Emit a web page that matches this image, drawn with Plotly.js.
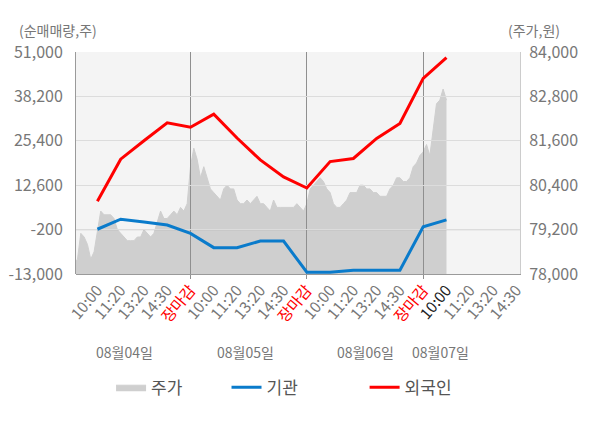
<!DOCTYPE html>
<html>
<head>
<meta charset="utf-8">
<script src="https://cdn.plot.ly/plotly-3.0.1.min.js"></script>
<style>
html,body{margin:0;padding:0;background:#fff;}
#chart{width:600px;height:428px;}
</style>
</head>
<body>
<div id="chart"></div>
<script>
// ---- data ----
const dayLabels = ['08월04일', '08월05일', '08월06일', '08월07일'];
const slotLabels = ['10:00', '11:20', '13:20', '14:30', '장마감'];

// 주가 (원), sampled 7 times per slot, day by day
const priceDay1 = [78300, 78400, 79100, 79000, 78800, 78400, 78600, 79200, 79700, 79600, 79600, 79600, 79500, 79200, 79100, 79000, 78900, 78900, 78900, 79000, 79000, 79200, 79100, 79000, 79100, 79400, 79700, 79500, 79500, 79600, 79700, 79600, 79800, 79700, 79900];
const priceDay2 = [80900, 81400, 81100, 80600, 80900, 80600, 80300, 80200, 80100, 80000, 80300, 80400, 80300, 80300, 80000, 79900, 79900, 80000, 79900, 80000, 80100, 79900, 79900, 79800, 79700, 80000, 79800, 79800, 79800, 79800, 79800, 79800, 79900, 79800, 79700];
const priceDay3 = [79900, 80300, 80400, 80500, 80600, 80500, 80300, 80200, 79900, 79800, 79800, 79900, 80000, 80200, 80200, 80200, 80400, 80400, 80300, 80300, 80200, 80200, 80100, 80100, 80100, 80300, 80400, 80600, 80600, 80500, 80500, 80600, 80900, 81000, 81200];
const priceDay4 = [81300, 81500, 81200, 81900, 82600, 82700, 83000, 82700];

// 순매매량 (주) at each time slot
const foreignNet = [8000, 20100, 25400, 30600, 29300, 33100, 26200, 19900, 15000, 11800, 19400, 20300, 26100, 30400, 43400, 49400];
const instNet = [-100, 2800, 2000, 1100, -1300, -5400, -5400, -3500, -3500, -12500, -12500, -11900, -11900, -11900, 600, 2600];

const netTicks = [-13000, -200, 12600, 25400, 38200, 51000];
const priceTicks = [78000, 79200, 80400, 81600, 82800, 84000];
const baseLine = -200;

// ---- build ----
const SAMPLES_PER_SLOT = 7;
const SLOTS_PER_DAY = slotLabels.length;
const price = [].concat(priceDay1, priceDay2, priceDay3, priceDay4);
const priceX = price.map((_, i) => i / SAMPLES_PER_SLOT);
const slotX = foreignNet.map((_, i) => i + 1);

const tickvals = [], ticktext = [];
const nSlots = SLOTS_PER_DAY * dayLabels.length - 1;
const currentSlot = foreignNet.length;
for (let s = 1; s <= nSlots; s++) {
  const lab = slotLabels[(s - 1) % SLOTS_PER_DAY];
  tickvals.push(s);
  if (lab === '장마감') ticktext.push('<span style="color:#ff0000">' + lab + '</span>');
  else if (s === currentSlot) ticktext.push('<span style="color:#222222">' + lab + '</span>');
  else ticktext.push(lab);
}
const closeVals = [];
for (let d = 1; d < dayLabels.length; d++) closeVals.push(d * SLOTS_PER_DAY);

const fmt = v => v.toLocaleString('en-US');
const FONT = 'Noto Sans CJK KR, Noto Sans, sans-serif';
const xRange = [0.08, 19.16];

const traces = [
  {
    x: priceX, y: price, name: '주가', type: 'scatter', mode: 'lines',
    xaxis: 'x', yaxis: 'y', fill: 'tozeroy', fillcolor: '#cfcfcf',
    line: {color: '#cfcfcf', width: 1}, legend: 'legend'
  },
  {
    x: slotX, y: instNet, name: '기관', type: 'scatter', mode: 'lines',
    xaxis: 'x2', yaxis: 'y2', line: {color: '#0a7bcb', width: 3}, legend: 'legend2'
  },
  {
    x: slotX, y: foreignNet, name: '외국인', type: 'scatter', mode: 'lines',
    xaxis: 'x2', yaxis: 'y2', line: {color: '#ff0000', width: 3}, legend: 'legend3'
  }
];

const legendBase = {orientation: 'h', yanchor: 'middle', xanchor: 'left', y: -0.512,
  bgcolor: 'rgba(0,0,0,0)', font: {family: FONT, size: 17, color: '#555555'}};

const annFont = {family: FONT, size: 14, color: '#777777'};
const dayPos = [0.110, 0.381, 0.651, 0.820];
const annotations = dayLabels.map((t, i) => ({
  text: t, xref: 'paper', yref: 'paper', x: dayPos[i], y: -0.351,
  xanchor: 'center', yanchor: 'middle', showarrow: false, font: annFont
}));
annotations.push({text: '(순매매량,주)', xref: 'paper', yref: 'paper', x: 0.052, y: 1.097,
  xanchor: 'right', yanchor: 'middle', showarrow: false, font: annFont});
annotations.push({text: '(주가,원)', xref: 'paper', yref: 'paper', x: 1.095, y: 1.097,
  xanchor: 'right', yanchor: 'middle', showarrow: false, font: annFont});

const layout = {
  width: 600, height: 428,
  margin: {l: 76, r: 80, t: 52, b: 154},
  paper_bgcolor: '#ffffff', plot_bgcolor: 'rgba(0,0,0,0)',
  font: {family: FONT, size: 14, color: '#777777'},
  showlegend: true,
  xaxis: {
    domain: [0, 1], anchor: 'y', range: xRange, tickvals: tickvals, ticktext: ticktext,
    tickangle: -50, showgrid: false, zeroline: false, showline: true, linecolor: '#9a9a9a',
    ticks: '', tickfont: {family: FONT, size: 15.5, color: '#777777'}
  },
  yaxis: {
    domain: [0, 1], anchor: 'x', side: 'right', range: [78000, 84000],
    tickvals: priceTicks, ticktext: priceTicks.map(fmt), showgrid: false, zeroline: false,
    showline: true, linecolor: '#cccccc', ticks: '', ticklabelstandoff: 5,
    tickfont: {family: FONT, size: 16, color: '#777777'}
  },
  xaxis2: {
    domain: [0, 1], anchor: 'y2', range: xRange, tickvals: closeVals, showticklabels: false,
    showgrid: true, gridcolor: '#8f8f8f', gridwidth: 1, zeroline: false, showline: false,
    ticks: 'outside', ticklen: 4, tickcolor: '#8f8f8f'
  },
  yaxis2: {
    domain: [0, 1], anchor: 'x2', side: 'left', range: [-13000, 51000],
    tickvals: netTicks, ticktext: netTicks.map(fmt), showgrid: true, gridcolor: '#dcdcdc',
    zeroline: false, showline: true, linecolor: '#9a9a9a', ticks: '', ticklabelstandoff: 9,
    tickfont: {family: FONT, size: 16, color: '#777777'}
  },
  shapes: [
    {type: 'rect', xref: 'paper', yref: 'paper', x0: 0, x1: 1, y0: 0, y1: 1,
      fillcolor: '#f4f4f4', line: {width: 0}, layer: 'below'},
    {type: 'line', xref: 'x2', yref: 'y2', x0: xRange[0], x1: xRange[1], y0: baseLine, y1: baseLine,
      line: {color: '#8f8f8f', width: 1}, layer: 'below'}
  ],
  legend: Object.assign({}, legendBase, {x: 0.079}),
  legend2: Object.assign({}, legendBase, {x: 0.339}),
  legend3: Object.assign({}, legendBase, {x: 0.650}),
  annotations: annotations
};

Plotly.newPlot('chart', traces, layout, {displayModeBar: false, staticPlot: true});
</script>
</body>
</html>
